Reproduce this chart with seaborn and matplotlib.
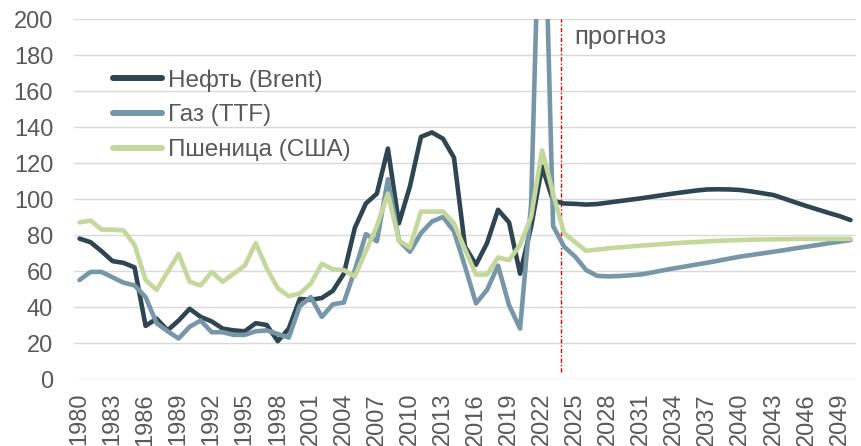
import matplotlib
matplotlib.use("Agg")
import matplotlib.pyplot as plt
import pandas as pd
import seaborn as sns

# Annual price indices, 1980-2050 (2024 onwards is the forecast)
years = list(range(1980, 2051))

oil = [78, 76, 71, 65.5, 64.5, 62, 29.5, 33.5, 27, 32.5,
       39, 34.5, 32, 28, 27, 26.5, 31, 30, 21, 28,
       44.5, 44, 45, 49, 58.5, 84, 97.5, 103, 128, 86.5,
       107, 134.5, 137, 133.5, 123, 73.5, 63.5, 75.5, 94, 87,
       58.5, 84.5, 118, 99, 97.5, 97.3, 96.9, 97.2, 98, 98.8,
       99.6, 100.4, 101.3, 102.2, 103.1, 103.9, 104.7, 105.3, 105.4, 105.3,
       105, 104.2, 103.2, 102.2, 100.2, 98.1, 96.1, 94.2, 92.3, 90.5,
       88.3]

gas = [55, 59.5, 59.5, 56.5, 53.5, 52, 45.5, 31, 26.5, 22.5,
       29, 32.5, 26, 26, 24.5, 24.5, 26.5, 27, 25, 23,
       40.5, 45.5, 34.5, 41.5, 42.5, 60.5, 80.5, 76.5, 111, 77,
       70.7, 81, 87.5, 90, 82, 62.5, 42, 49.5, 63, 41,
       28, 97, 320, 85, 73.5, 68, 60.5, 57.3, 57, 57.2,
       57.6, 58.1, 59.2, 60.4, 61.5, 62.5, 63.6, 64.6, 65.7, 66.9,
       68, 68.9, 69.8, 70.7, 71.6, 72.6, 73.5, 74.4, 75.4, 76.3,
       77.2]

wheat = [87, 88, 83, 83, 82.5, 74.5, 55, 49.5, 59.5, 69.5,
         54, 52, 59.5, 54, 58.5, 63, 75.5, 61.5, 50.5, 46,
         47.5, 53, 64, 61, 60.5, 57, 71, 85, 103, 77,
         73, 93, 93, 93, 86.5, 72, 58, 58, 67.5, 66,
         74.5, 90, 127, 103, 81, 76, 71.2, 71.9, 72.6, 73.1,
         73.6, 74.1, 74.5, 75, 75.4, 75.8, 76.1, 76.5, 76.8, 77,
         77.2, 77.4, 77.5, 77.6, 77.7, 77.8, 77.8, 77.8, 77.8, 77.8,
         77.8]

series_names = ["Нефть (Brent)", "Газ (TTF)", "Пшеница (США)"]
series_colors = ["#2F4551", "#7797A9", "#C4D89B"]
y_ticks = list(range(0, 201, 20))
x_ticks = list(range(1980, 2051, 3))
forecast_start = 2023.75
forecast_label = "прогноз"

sns.set_theme(style="white")
plt.rcParams["font.family"] = ["Liberation Sans", "DejaVu Sans"]

df = pd.DataFrame({
    "year": years * 3,
    "value": oil + gas + wheat,
    "series": [name for name in series_names for _ in years],
})

text_color = "#595959"
fig = plt.figure(figsize=(8.61, 4.46), dpi=100)
ax = fig.add_axes([74 / 861, 67 / 446, 782 / 861, 360 / 446])

for y in y_ticks:
    ax.axhline(y, color="#D9D9D9", lw=1.0, zorder=0)

sns.lineplot(
    data=df, x="year", y="value", hue="series",
    palette=dict(zip(series_names, series_colors)),
    linewidth=3.3, errorbar=None, ax=ax,
    solid_capstyle="round", solid_joinstyle="round",
)

ax.axvline(forecast_start, ymin=0.02, ymax=1.0, color="#E00000",
           lw=1.0, linestyle=(0, (3, 1.5, 1, 1.5)), zorder=1)
ax.text(forecast_start + 1.2, 186, forecast_label, fontsize=18.5,
        color=text_color, ha="left", va="baseline")

ax.set_xlim(1979.5, 2050.5)
ax.set_ylim(0, 200)
ax.set_xticks(x_ticks)
ax.set_xticklabels([str(t) for t in x_ticks], rotation=90)
ax.set_yticks(y_ticks)
ax.tick_params(axis="x", length=0, pad=10, labelsize=17, labelcolor=text_color)
ax.tick_params(axis="y", length=0, pad=15, labelsize=17, labelcolor=text_color)
ax.set_xlabel("")
ax.set_ylabel("")
for spine in ax.spines.values():
    spine.set_visible(False)

handles, labels = ax.get_legend_handles_labels()
leg = ax.legend(
    handles, labels, loc="upper left", frameon=False,
    bbox_to_anchor=(113 / 861, 1 - 69 / 446), bbox_transform=fig.transFigure,
    fontsize=17.5, handlelength=2.0, handletextpad=0.25, labelspacing=0.53,
    borderpad=0, borderaxespad=0,
)
for text in leg.get_texts():
    text.set_color(text_color)
for line in leg.get_lines():
    line.set_linewidth(4.3)
    line.set_solid_capstyle("round")

fig.savefig("out.png", dpi=100)
